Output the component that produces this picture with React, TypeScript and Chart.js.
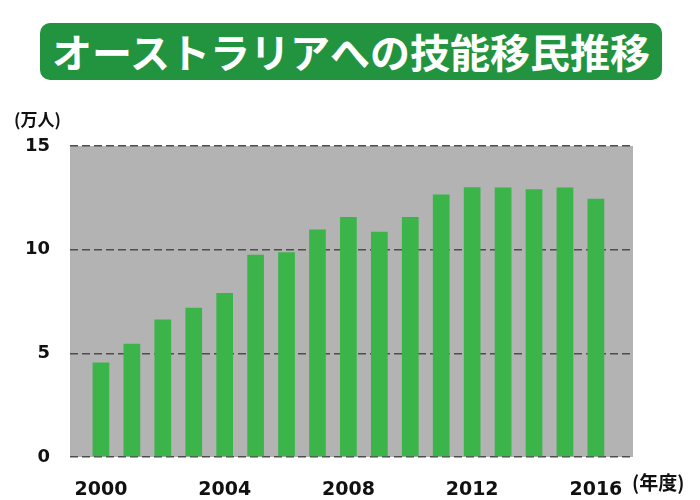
import React, { useEffect, useRef } from "react";
import { Chart, registerables } from "chart.js";

Chart.register(...registerables);

const titleText = "オーストラリアへの技能移民推移";
const yUnitLabel = "(万人)";
const xUnitLabel = "(年度)";
const years = [2000, 2001, 2002, 2003, 2004, 2005, 2006, 2007, 2008, 2009, 2010, 2011, 2012, 2013, 2014, 2015, 2016];
const skilledMigrants = [4.56, 5.46, 6.63, 7.2, 7.91, 9.76, 9.87, 10.97, 11.58, 10.87, 11.58, 12.66, 13.01, 13.0, 12.91, 13.0, 12.46];
const xTickYears = [2000, 2004, 2008, 2012, 2016];
const yMax = 15;
const yStep = 5;

const TICK_FONT = "'DejaVu Sans', 'Noto Sans CJK JP', sans-serif";
const CJK_FONT = "'Noto Sans CJK JP', sans-serif";

const plotBgPlugin = {
  id: "plotBg",
  beforeDraw(chart: any) {
    const { ctx, chartArea } = chart;
    ctx.save();
    ctx.fillStyle = "#b3b3b3";
    ctx.fillRect(chartArea.left, chartArea.top, chartArea.right - chartArea.left, chartArea.bottom - chartArea.top);
    ctx.restore();
  },
};

const unitLabelsPlugin = {
  id: "unitLabels",
  afterDraw(chart: any) {
    const { ctx } = chart;
    ctx.save();
    ctx.fillStyle = "#111";
    ctx.textBaseline = "middle";
    ctx.textAlign = "left";
    ctx.font = `bold 17px ${CJK_FONT}`;
    ctx.fillText(yUnitLabel, 14, 120);
    ctx.font = `bold 19px ${CJK_FONT}`;
    ctx.fillText(xUnitLabel, 632, 483);
    ctx.restore();
  },
};

export default function App() {
  const canvasRef = useRef<HTMLCanvasElement | null>(null);

  useEffect(() => {
    if (!canvasRef.current) return;
    const chart = new Chart(canvasRef.current, {
      type: "bar",
      data: {
        datasets: [
          {
            data: years.map((yr, i) => ({ x: yr, y: skilledMigrants[i] })),
            backgroundColor: "#3bb54a",
            barPercentage: 0.6,
            categoryPercentage: 0.9,
          },
        ],
      },
      options: {
        animation: false,
        responsive: true,
        maintainAspectRatio: false,
        layout: { padding: { top: 146, right: 67, left: 0, bottom: 0 } },
        plugins: { legend: { display: false }, tooltip: { enabled: false } },
        scales: {
          x: {
            type: "linear",
            offset: false,
            min: 1999,
            max: 2017.2,
            grid: { display: false },
            border: { display: false },
            afterBuildTicks: (scale: any) => {
              scale.ticks = xTickYears.map((v) => ({ value: v }));
            },
            afterFit: (scale: any) => {
              scale.height = 43;
            },
            ticks: {
              autoSkip: false,
              maxRotation: 0,
              padding: 14,
              color: "#111",
              font: { family: TICK_FONT, size: 19, weight: "bold" },
              callback: (v: any) => String(v),
            },
          },
          y: {
            min: 0,
            max: yMax,
            afterFit: (scale: any) => {
              scale.width = 70;
            },
            ticks: {
              stepSize: yStep,
              padding: 20,
              color: "#111",
              font: { family: TICK_FONT, size: 18, weight: "bold" },
            },
            grid: { color: "#4d4d4d", lineWidth: 1.5, drawTicks: false },
            border: { display: false, dash: [8, 4] },
          },
        },
      },
      plugins: [plotBgPlugin, unitLabelsPlugin],
    } as any);
    return () => chart.destroy();
  }, []);

  return (
    <div style={{ position: "absolute", left: 0, top: 0, width: 700, height: 500, background: "#fff" }}>
      <div
        style={{
          position: "absolute",
          left: 40,
          top: 23,
          width: 622,
          height: 57,
          borderRadius: 10,
          background: "#22943f",
          color: "#fff",
          fontFamily: CJK_FONT,
          fontWeight: 700,
          fontSize: 40,
          lineHeight: "57px",
          textAlign: "center",
          whiteSpace: "nowrap",
        }}
      >
        {titleText}
      </div>
      <canvas ref={canvasRef} width={700} height={500} style={{ position: "absolute", left: 0, top: 0 }} />
    </div>
  );
}
